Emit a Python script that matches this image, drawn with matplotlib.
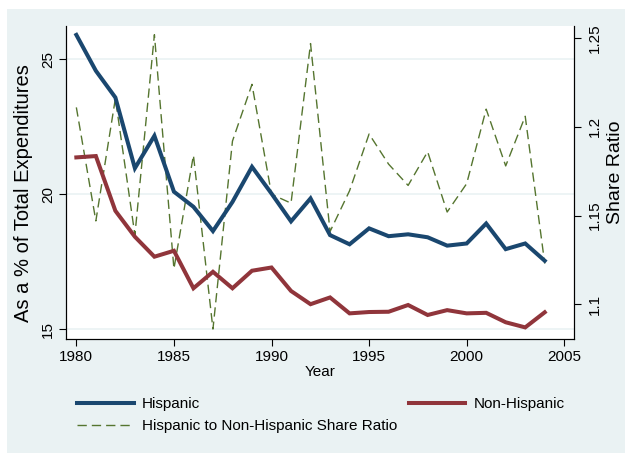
import matplotlib
matplotlib.use("Agg")
import matplotlib.pyplot as plt
import matplotlib.patches as patches

plt.rcParams['font.family'] = ['Liberation Sans', 'DejaVu Sans']

# Data
years = list(range(1980, 2005))
hispanic = [25.90, 24.57, 23.58, 20.96, 22.16, 20.09, 19.53, 18.63, 19.71, 21.01,
            20.02, 18.99, 19.84, 18.48, 18.14, 18.73, 18.44, 18.51, 18.40, 18.09,
            18.17, 18.91, 17.96, 18.17, 17.53]
non_hispanic = [21.36, 21.41, 19.38, 18.42, 17.68, 17.90, 16.51, 17.12, 16.51, 17.16,
                17.28, 16.41, 15.92, 16.17, 15.58, 15.63, 15.64, 15.89, 15.52, 15.70,
                15.58, 15.60, 15.25, 15.06, 15.62]
share_ratio = [1.211, 1.147, 1.216, 1.139, 1.252, 1.120, 1.184, 1.086, 1.192, 1.224,
               1.162, 1.157, 1.247, 1.141, 1.164, 1.196, 1.179, 1.167, 1.186, 1.152,
               1.168, 1.210, 1.178, 1.206, 1.123]
x_ticks = [1980, 1985, 1990, 1995, 2000, 2005]
left_ticks = [15, 20, 25]
right_ticks = [1.1, 1.15, 1.2, 1.25]
right_tick_labels = ['1.1', '1.15', '1.2', '1.25']

# Stata s2color palette
bg_color = '#eaf2f3'
blue = '#1a476f'
red = '#90353b'
green = '#55752f'

W, H = 625, 455
fig = plt.figure(figsize=(W / 100, H / 100), dpi=100)
fig.patch.set_facecolor('white')

# outer graph region
fig.patches.append(patches.Rectangle((7 / W, 2 / H), 1, (453 - 9) / H,
                                     transform=fig.transFigure, facecolor=bg_color,
                                     edgecolor='none', zorder=-10))

ax = fig.add_axes([66 / W, 1 - 339 / H, (574 - 66) / W, (339 - 26) / H])
ax2 = ax.twinx()

# white plot face sits on the lower (right-axis) axes
ax2.set_zorder(0)
ax2.patch.set_visible(True)
ax2.patch.set_facecolor('white')
ax.set_zorder(1)
ax.patch.set_visible(False)

left_lim = (14.63, 26.23)
right_lim = (1.0804, 1.2569)

# grid on the left axis (drawn on the lower axes so it stays behind the lines)
for t in left_ticks:
    frac = (t - left_lim[0]) / (left_lim[1] - left_lim[0])
    ax2.axhline(right_lim[0] + frac * (right_lim[1] - right_lim[0]),
                color=bg_color, lw=1.2, zorder=0)

l_r, = ax2.plot(years, share_ratio, color=green, lw=1.0, linestyle=(0, (6.7, 3.6)),
                label='Hispanic to Non-Hispanic Share Ratio', zorder=2)
l_h, = ax.plot(years, hispanic, color=blue, lw=2.9, label='Hispanic',
               solid_joinstyle='miter', zorder=3)
l_n, = ax.plot(years, non_hispanic, color=red, lw=2.9, label='Non-Hispanic',
               solid_joinstyle='miter', zorder=3)

ax.set_xlim(1979.47, 2005.5)
ax.set_ylim(*left_lim)
ax2.set_ylim(*right_lim)

ax.set_xticks(x_ticks)
ax.set_yticks(left_ticks)
ax2.set_yticks(right_ticks)
ax2.set_yticklabels(right_tick_labels)

for a in (ax, ax2):
    a.spines['top'].set_visible(False)
    for s in ('left', 'right', 'bottom'):
        a.spines[s].set_linewidth(0.8)
    a.tick_params(length=5, width=0.8, labelsize=11, pad=3)
ax.tick_params(axis='y', labelrotation=90)
ax2.tick_params(axis='y', labelrotation=90, pad=5)
for lbl in ax.get_yticklabels() + ax2.get_yticklabels():
    lbl.set_va('center')

ax.set_xlabel('Year', fontsize=11, labelpad=1)
ax.set_ylabel('As a % of Total Expenditures', fontsize=14.5)
ax.yaxis.set_label_coords((33 - 66) / (574 - 66), (339 - 193) / (339 - 26))
fig.text(615 / W, 1 - 172 / H, 'Share Ratio', rotation=90, fontsize=14,
         ha='center', va='center')

fig.legend(handles=[l_h, l_r, l_n], ncol=2, loc='upper left',
           bbox_to_anchor=(77 / W, 1 - 397 / H), frameon=False, fontsize=11,
           borderpad=0, borderaxespad=0, handlelength=3.7, handletextpad=0.55,
           columnspacing=0.75, labelspacing=0.55)

fig.savefig('out.png', dpi=100, facecolor='white')
